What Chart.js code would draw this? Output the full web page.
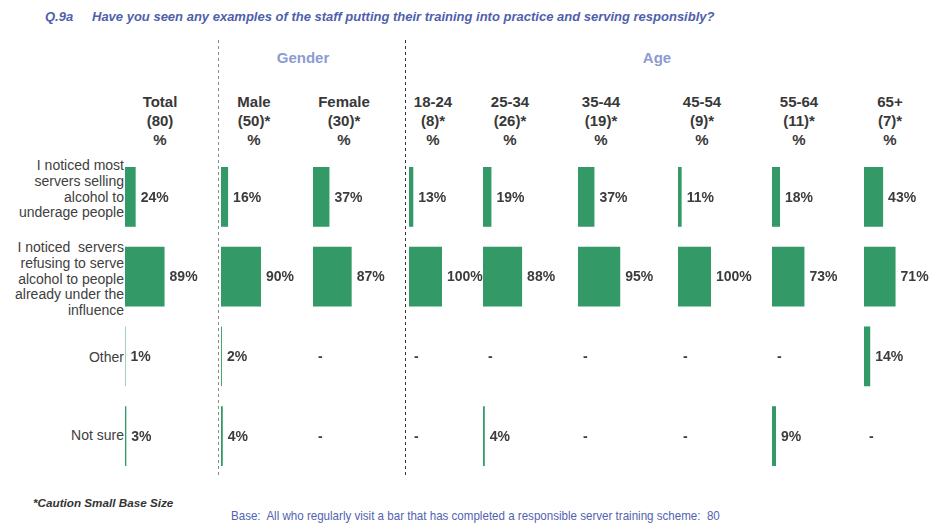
<!DOCTYPE html>
<html>
<head>
<meta charset="utf-8">
<script src="https://cdn.jsdelivr.net/npm/chart.js@4"></script>
<style>
  body { margin: 0; background: #fff; font-family: "Liberation Sans", Arial, sans-serif; }
  #wrap { position: relative; width: 930px; height: 523px; overflow: hidden; }
  .abs { position: absolute; white-space: pre; }
  .title { top: 9px; font-size: 13px; font-weight: bold; font-style: italic; color: #4f5fae; }
  .group { top: 49px; font-size: 15px; font-weight: bold; color: #8c9bd2; transform: translateX(-50%); }
  .colhead { top: 92px; font-size: 15px; font-weight: bold; color: #383838; line-height: 19px; text-align: center; transform: translateX(-50%); }
  .rowlabel { right: 806px; font-size: 14px; color: #404040; line-height: 15.8px; text-align: right; }
  .caution { left: 33px; top: 496px; font-size: 11.7px; font-weight: bold; font-style: italic; color: #333; }
  .base { left: 231px; top: 508px; font-size: 13px; color: #5262b2; transform: scaleX(0.89); transform-origin: 0 0; }
  canvas { position: absolute; }
</style>
</head>
<body>
<div id="wrap">
  <div class="abs title" style="left:45px">Q.9a</div>
  <div class="abs title" style="left:92px">Have you seen any examples of the staff putting their training into practice and serving responsibly?</div>
  <div class="abs group" style="left:303px">Gender</div>
  <div class="abs group" style="left:657px">Age</div>
  <svg class="abs" width="930" height="523" style="left:0;top:0">
    <line x1="218.5" y1="40" x2="218.5" y2="478" stroke="#8a8a8a" stroke-width="1" stroke-dasharray="3,3"/>
    <line x1="405.5" y1="40" x2="405.5" y2="478" stroke="#333" stroke-width="1" stroke-dasharray="3,3"/>
  </svg>
  <div class="abs caution">*Caution Small Base Size</div>
  <div class="abs base">Base:  All who regularly visit a bar that has completed a responsible server training scheme:  80</div>
</div>
<script>
// columns of the table
const columns = ['Total', 'Male', 'Female', '18-24', '25-34', '35-44', '45-54', '55-64', '65+'];
const bases = ['(80)', '(50)*', '(30)*', '(8)*', '(26)*', '(19)*', '(9)*', '(11)*', '(7)*'];

// answers (rows)
const answers = [
  ['I noticed most', 'servers selling', 'alcohol to', 'underage people'],
  ['I noticed  servers', 'refusing to serve', 'alcohol to people', 'already under the', 'influence'],
  ['Other'],
  ['Not sure']
];

// % per column, null = "-"
const underage = [24, 16, 37, 13, 19, 37, 11, 18, 43];
const refusing = [89, 90, 87, 100, 88, 95, 100, 73, 71];
const other = [1, 2, null, null, null, null, null, null, 14];
const notSure = [3, 4, null, null, 4, null, null, 9, null];

// layout: where each column's bars start, header centre, scale max
const barLeft = [125, 221, 313, 409, 483, 578, 678, 772, 864];
const headCentre = [160, 254, 344, 433, 510, 601, 702, 799, 890];
const scaleMax = [225, 225, 225, 303, 225, 225, 303, 225, 225];
const labelTops = [158, 240, 350, 428];

const wrap = document.getElementById('wrap');

columns.forEach((c, i) => {
  const d = document.createElement('div');
  d.className = 'abs colhead';
  d.style.left = headCentre[i] + 'px';
  d.textContent = c + '\n' + bases[i] + '\n%';
  wrap.appendChild(d);
});

answers.forEach((lines, i) => {
  const d = document.createElement('div');
  d.className = 'abs rowlabel';
  d.style.top = labelTops[i] + 'px';
  d.textContent = lines.join('\n');
  wrap.appendChild(d);
});

// value text right after the bar, or a dash when there is no value
const valueLabels = {
  id: 'valueLabels',
  afterDatasetsDraw(chart) {
    const ctx = chart.ctx;
    const ds = chart.data.datasets[0];
    const meta = chart.getDatasetMeta(0);
    ctx.save();
    ctx.font = 'bold 14px "Liberation Sans", Arial, sans-serif';
    ctx.fillStyle = '#3c3c3c';
    ctx.textAlign = 'left';
    ctx.textBaseline = 'middle';
    ds.data.forEach((v, j) => {
      const y = chart.scales.y.getPixelForValue(j) + 1;
      if (v === null) {
        ctx.fillText('-', chart.scales.x.getPixelForValue(0) + 5, y);
      } else {
        ctx.fillText(v + '%', meta.data[j].x + 5, y);
      }
    });
    ctx.restore();
  }
};

columns.forEach((c, i) => {
  const cv = document.createElement('canvas');
  cv.width = 100;
  cv.height = 319;
  cv.style.left = barLeft[i] + 'px';
  cv.style.top = '157px';
  wrap.appendChild(cv);

  new Chart(cv, {
    type: 'bar',
    data: {
      labels: answers.map(a => a.join(' ')),
      datasets: [{
        label: c,
        data: [underage[i], refusing[i], other[i], notSure[i]],
        backgroundColor: '#339966',
        borderWidth: 0,
        barPercentage: 0.75,
        categoryPercentage: 1
      }]
    },
    options: {
      indexAxis: 'y',
      responsive: false,
      animation: false,
      layout: { padding: 0 },
      plugins: { legend: { display: false }, tooltip: { enabled: false } },
      scales: {
        x: { display: false, min: 0, max: scaleMax[i] },
        y: { display: false }
      }
    },
    plugins: [valueLabels]
  });
});
</script>
</body>
</html>
